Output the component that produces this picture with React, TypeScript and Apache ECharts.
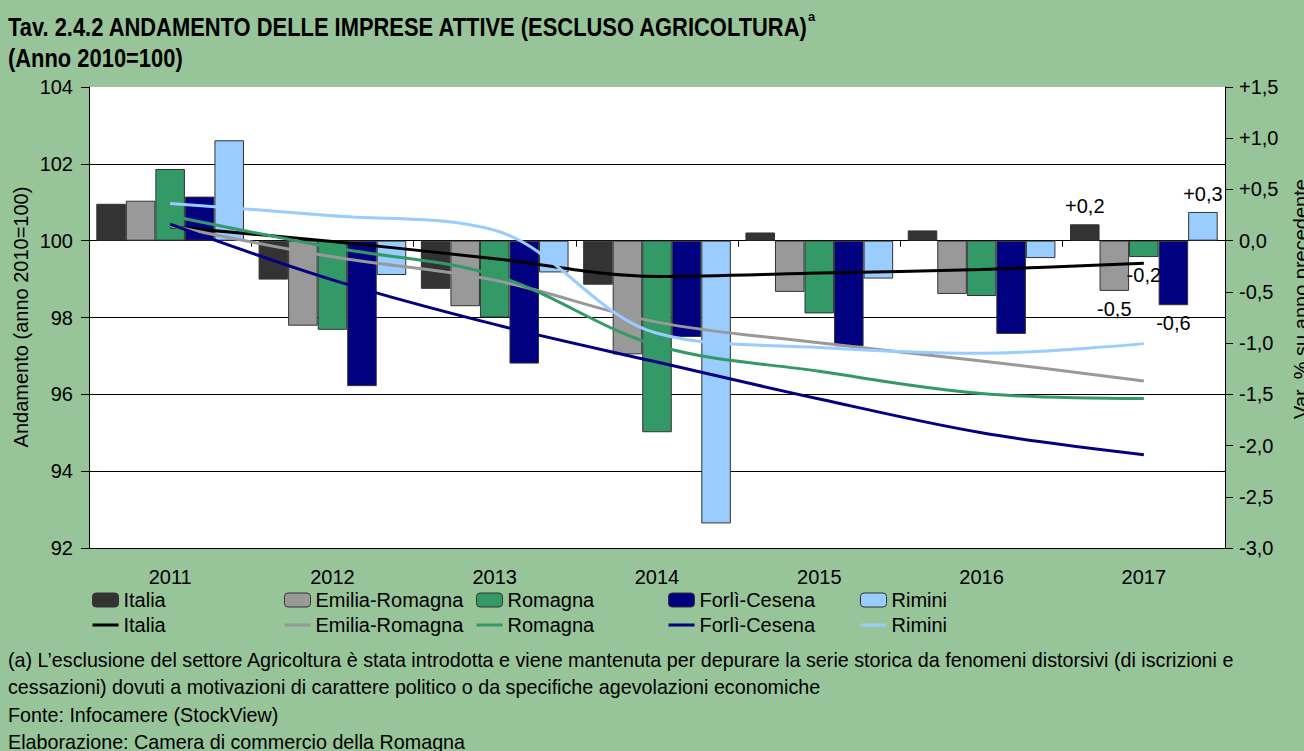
import React, { useEffect, useRef } from "react";
import * as echarts from "echarts";

const years = ["2011", "2012", "2013", "2014", "2015", "2016", "2017"];
const regions = ["Italia", "Emilia-Romagna", "Romagna", "Forlì-Cesena", "Rimini"];
const colors = ["#333333", "#999999", "#339966", "#000080", "#99CCFF"];
const lineColors = ["#000000", "#999999", "#339966", "#000080", "#99CCFF"];

// Var. % su anno precedente (bars, right axis)
const varItalia = [0.36, -0.38, -0.47, -0.43, 0.08, 0.1, 0.16];
const varEmilia = [0.39, -0.83, -0.64, -1.11, -0.5, -0.52, -0.49];
const varRomagna = [0.7, -0.87, -0.75, -1.87, -0.71, -0.54, -0.16];
const varForli = [0.43, -1.42, -1.2, -0.94, -1.03, -0.91, -0.63];
const varRimini = [0.98, -0.335, -0.31, -2.76, -0.37, -0.17, 0.28];

// Andamento, anno 2010 = 100 (lines, left axis)
const idxItalia = [100.36, 99.98, 99.53, 99.07, 99.16, 99.25, 99.41];
const idxEmilia = [100.39, 99.58, 98.97, 97.88, 97.34, 96.87, 96.35];
const idxRomagna = [100.65, 99.82, 99.1, 97.27, 96.6, 96.02, 95.89];
const idxForli = [100.43, 98.98, 97.82, 96.84, 95.88, 95.0, 94.43];
const idxRimini = [100.97, 100.65, 100.27, 97.59, 97.22, 97.07, 97.32];

const leftTicks = { min: 92, max: 104, interval: 2 };
const rightTicks = { min: -3, max: 1.5, interval: 0.5 };

const titleLine1 = "Tav. 2.4.2 ANDAMENTO DELLE IMPRESE ATTIVE (ESCLUSO AGRICOLTURA)";
const titleLine2 = "(Anno 2010=100)";
const leftAxisName = "Andamento (anno 2010=100)";
const rightAxisName = "Var. % su anno precedente";
const footnotes = [
  "(a) L\u2019esclusione del settore Agricoltura è stata introdotta e viene mantenuta per depurare la serie storica da fenomeni distorsivi (di iscrizioni e",
  "cessazioni) dovuti a motivazioni di carattere politico o da specifiche agevolazioni economiche",
  "Fonte: Infocamere (StockView)",
  "Elaborazione: Camera di commercio della Romagna",
];

const FONT = "'Liberation Sans', Arial, sans-serif";
const BG = "#98C49A";
const LINE_ICON = "path://M0,0H26V3H0Z";

const fmtVar = (v: number) => {
  const r = Math.round(v * 10) / 10;
  const s = Math.abs(r).toFixed(1).replace(".", ",");
  if (r > 0) return "+" + s;
  if (r < 0) return "-" + s;
  return s;
};

export default function App() {
  const ref = useRef<HTMLDivElement>(null);

  useEffect(() => {
    if (!ref.current) return;
    const chart = echarts.init(ref.current, null, { renderer: "svg" });
    const varData = [varItalia, varEmilia, varRomagna, varForli, varRimini];
    const idxData = [idxItalia, idxEmilia, idxRomagna, idxForli, idxRimini];

    const barSeries = regions.map((name, k) => ({
      type: "bar",
      name,
      yAxisIndex: 1,
      barGap: "0%",
      barCategoryGap: "9%",
      itemStyle: { color: colors[k], borderColor: "#333333", borderWidth: 1 },
      label: {
        show: false,
        position: "outside",
        distance: 8,
        fontSize: 20,
        fontFamily: FONT,
        color: "#000",
        formatter: (p: any) => fmtVar(p.value),
      },
      data: varData[k].map((v, i) =>
        i === varData[k].length - 1 ? { value: v, label: { show: true } } : v
      ),
      z: 2,
    }));

    const lineSeries = regions.map((name, k) => ({
      type: "line",
      name: name + " ",
      yAxisIndex: 0,
      smooth: 0.35,
      symbol: "none",
      lineStyle: { color: lineColors[k], width: 3 },
      itemStyle: { color: lineColors[k] },
      data: idxData[k],
      z: 3,
    }));

    const legendX = [92, 284, 476, 668, 860];
    const legends = regions.map((name, k) => ({
      orient: "vertical",
      left: legendX[k],
      top: 590,
      padding: 0,
      itemGap: 5,
      itemWidth: 26,
      itemHeight: 14,
      selectedMode: false,
      textStyle: { fontSize: 20, fontFamily: FONT, color: "#000" },
      formatter: (n: string) => n.trim(),
      data: [
        { name, itemStyle: { borderWidth: 1, borderColor: "#333333" } },
        {
          name: name + " ",
          icon: LINE_ICON,
          itemStyle: { color: lineColors[k], borderWidth: 0 },
        },
      ],
    }));

    const option: any = {
      animation: false,
      backgroundColor: BG,
      textStyle: { fontFamily: FONT },
      grid: {
        left: 89,
        right: 79,
        top: 87,
        bottom: 203,
        show: true,
        backgroundColor: "#ffffff",
        borderWidth: 0,
      },
      legend: legends,
      xAxis: {
        type: "category",
        data: years,
        axisLine: { show: true, lineStyle: { color: "#000", width: 1 } },
        axisTick: { show: true, length: 6, lineStyle: { color: "#000" } },
        axisLabel: { fontSize: 20, color: "#000", margin: 19, fontFamily: FONT },
        splitLine: { show: false },
      },
      yAxis: [
        {
          type: "value",
          position: "left",
          min: leftTicks.min,
          max: leftTicks.max,
          interval: leftTicks.interval,
          axisLine: { show: true, lineStyle: { color: "#000", width: 1 } },
          axisTick: { show: true, length: 8, lineStyle: { color: "#000" } },
          axisLabel: { fontSize: 20, color: "#000", margin: 16, fontFamily: FONT },
          splitLine: { show: true, showMaxLine: false, lineStyle: { color: "#000", width: 1 } },
        },
        {
          type: "value",
          position: "right",
          min: rightTicks.min,
          max: rightTicks.max,
          interval: rightTicks.interval,
          axisLine: { show: true, lineStyle: { color: "#000", width: 1 } },
          axisTick: { show: true, length: 8, lineStyle: { color: "#000" } },
          axisLabel: {
            fontSize: 20,
            color: "#000",
            margin: 14,
            fontFamily: FONT,
            formatter: (v: number) => fmtVar(v),
          },
          splitLine: { show: false },
        },
      ],
      series: [...barSeries, ...lineSeries],
      graphic: [
        {
          type: "text",
          x: 8,
          y: 27,
          scaleX: 0.843,
          style: {
            text: titleLine1,
            fontSize: 26,
            fontWeight: "bold",
            fontFamily: FONT,
            fill: "#000",
            align: "left",
            verticalAlign: "middle",
          },
        },
        {
          type: "text",
          x: 8,
          y: 58,
          scaleX: 0.843,
          style: {
            text: titleLine2,
            fontSize: 26,
            fontWeight: "bold",
            fontFamily: FONT,
            fill: "#000",
            align: "left",
            verticalAlign: "middle",
          },
        },
        {
          type: "text",
          x: 808,
          y: 16,
          style: {
            text: "a",
            fontSize: 13,
            fontWeight: "bold",
            fontFamily: FONT,
            fill: "#000",
            align: "left",
            verticalAlign: "middle",
          },
        },
        {
          type: "text",
          x: 21,
          y: 317,
          rotation: Math.PI / 2,
          style: {
            text: leftAxisName,
            fontSize: 20,
            fontFamily: FONT,
            fill: "#000",
            align: "center",
            verticalAlign: "middle",
          },
        },
        {
          type: "text",
          x: 1301,
          y: 299,
          rotation: Math.PI / 2,
          style: {
            text: rightAxisName,
            fontSize: 20,
            fontFamily: FONT,
            fill: "#000",
            align: "center",
            verticalAlign: "middle",
          },
        },
        ...footnotes.map((t, i) => ({
          type: "text",
          x: 8,
          y: 660 + i * 27.3,
          scaleX: 0.986,
          style: {
            text: t,
            fontSize: 20,
            fontFamily: FONT,
            fill: "#000",
            align: "left",
            verticalAlign: "middle",
          },
        })),
      ],
    };

    chart.setOption(option);
    return () => chart.dispose();
  }, []);

  return (
    <div
      ref={ref}
      style={{ position: "absolute", left: 0, top: 0, width: 1304, height: 751 }}
    />
  );
}
